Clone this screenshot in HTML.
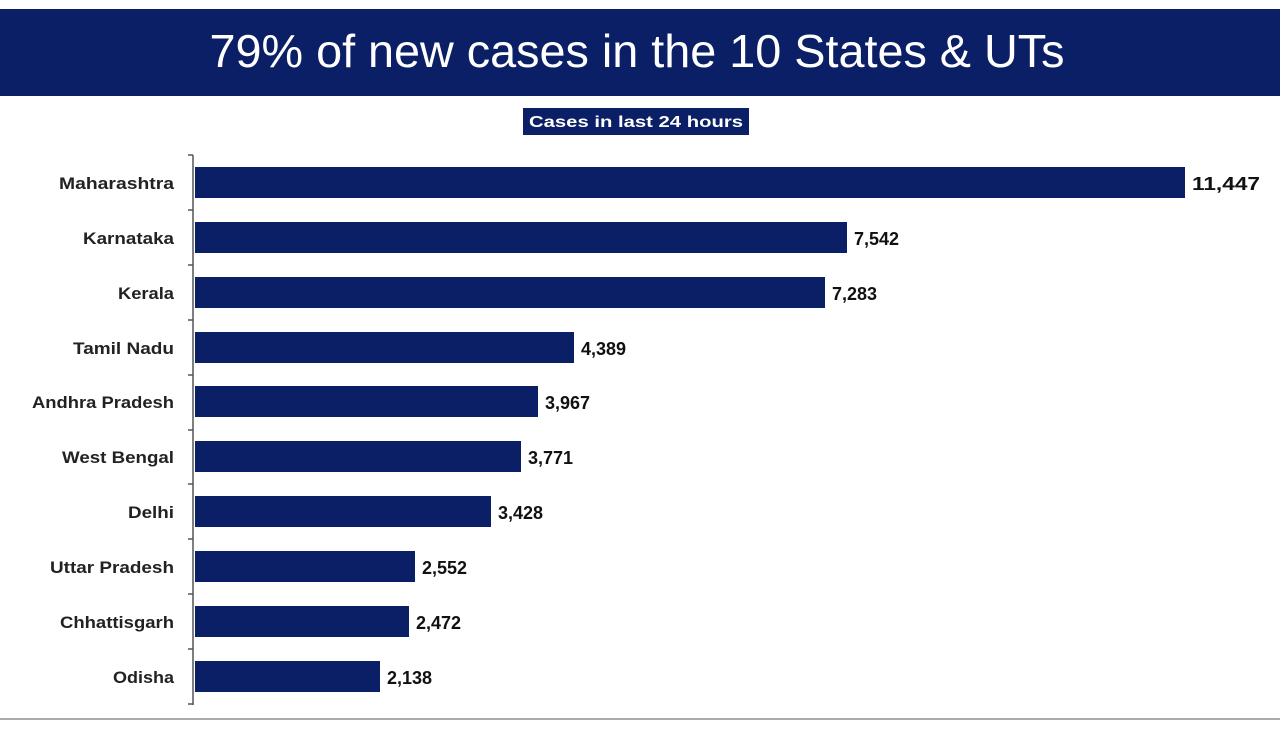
<!DOCTYPE html>
<html><head><style>
body{margin:0;width:1280px;height:731px;background:#fff;overflow:hidden}
svg{display:block}
</style></head><body>
<svg width="1280" height="731" xmlns="http://www.w3.org/2000/svg" font-family="'Liberation Sans',sans-serif">
<rect x="0" y="9" width="1280" height="87" fill="#0b1f66"/>
<text x="637" y="67" text-anchor="middle" fill="#fff" font-size="46" textLength="855" lengthAdjust="spacingAndGlyphs">79% of new cases in the 10 States &amp; UTs</text>
<rect x="523" y="108" width="226" height="27" fill="#0b1f66"/>
<text x="636" y="127" text-anchor="middle" fill="#fff" font-size="16" font-weight="bold" textLength="214" lengthAdjust="spacingAndGlyphs">Cases in last 24 hours</text>
<line x1="193" y1="155" x2="193" y2="705" stroke="#555" stroke-width="1.5"/>
<line x1="0" y1="719" x2="1280" y2="719" stroke="#aaa" stroke-width="2"/>
<g fill="#0b1f66">
<rect x="195" y="167" width="990" height="31"/>
<rect x="195" y="222" width="652" height="31"/>
<rect x="195" y="277" width="630" height="31"/>
<rect x="195" y="332" width="379" height="31"/>
<rect x="195" y="386" width="343" height="31"/>
<rect x="195" y="441" width="326" height="31"/>
<rect x="195" y="496" width="296" height="31"/>
<rect x="195" y="551" width="220" height="31"/>
<rect x="195" y="606" width="214" height="31"/>
<rect x="195" y="661" width="185" height="31"/>
</g>
<g stroke="#555" stroke-width="1.5">
<line x1="188" y1="155" x2="193" y2="155"/><line x1="188" y1="210" x2="193" y2="210"/><line x1="188" y1="265" x2="193" y2="265"/><line x1="188" y1="320" x2="193" y2="320"/><line x1="188" y1="375" x2="193" y2="375"/><line x1="188" y1="430" x2="193" y2="430"/><line x1="188" y1="484" x2="193" y2="484"/><line x1="188" y1="539" x2="193" y2="539"/><line x1="188" y1="594" x2="193" y2="594"/><line x1="188" y1="649" x2="193" y2="649"/><line x1="188" y1="704" x2="193" y2="704"/>
</g>
<g font-size="17" font-weight="bold" fill="#222" text-anchor="end">
<text x="174" y="189" textLength="115" lengthAdjust="spacingAndGlyphs">Maharashtra</text>
<text x="174" y="244" textLength="91" lengthAdjust="spacingAndGlyphs">Karnataka</text>
<text x="174" y="299" textLength="56" lengthAdjust="spacingAndGlyphs">Kerala</text>
<text x="174" y="354" textLength="101" lengthAdjust="spacingAndGlyphs">Tamil Nadu</text>
<text x="174" y="408" textLength="142" lengthAdjust="spacingAndGlyphs">Andhra Pradesh</text>
<text x="174" y="463" textLength="112" lengthAdjust="spacingAndGlyphs">West Bengal</text>
<text x="174" y="518" textLength="46" lengthAdjust="spacingAndGlyphs">Delhi</text>
<text x="174" y="573" textLength="124" lengthAdjust="spacingAndGlyphs">Uttar Pradesh</text>
<text x="174" y="628" textLength="114" lengthAdjust="spacingAndGlyphs">Chhattisgarh</text>
<text x="174" y="683" textLength="61" lengthAdjust="spacingAndGlyphs">Odisha</text>
</g>
<g font-size="18" font-weight="bold" fill="#111">
<text x="1192" y="190" textLength="68" lengthAdjust="spacingAndGlyphs">11,447</text>
<text x="854" y="245">7,542</text>
<text x="832" y="300">7,283</text>
<text x="581" y="355">4,389</text>
<text x="545" y="409">3,967</text>
<text x="528" y="464">3,771</text>
<text x="498" y="519">3,428</text>
<text x="422" y="574">2,552</text>
<text x="416" y="629">2,472</text>
<text x="387" y="684">2,138</text>
</g>
</svg>
</body></html>
